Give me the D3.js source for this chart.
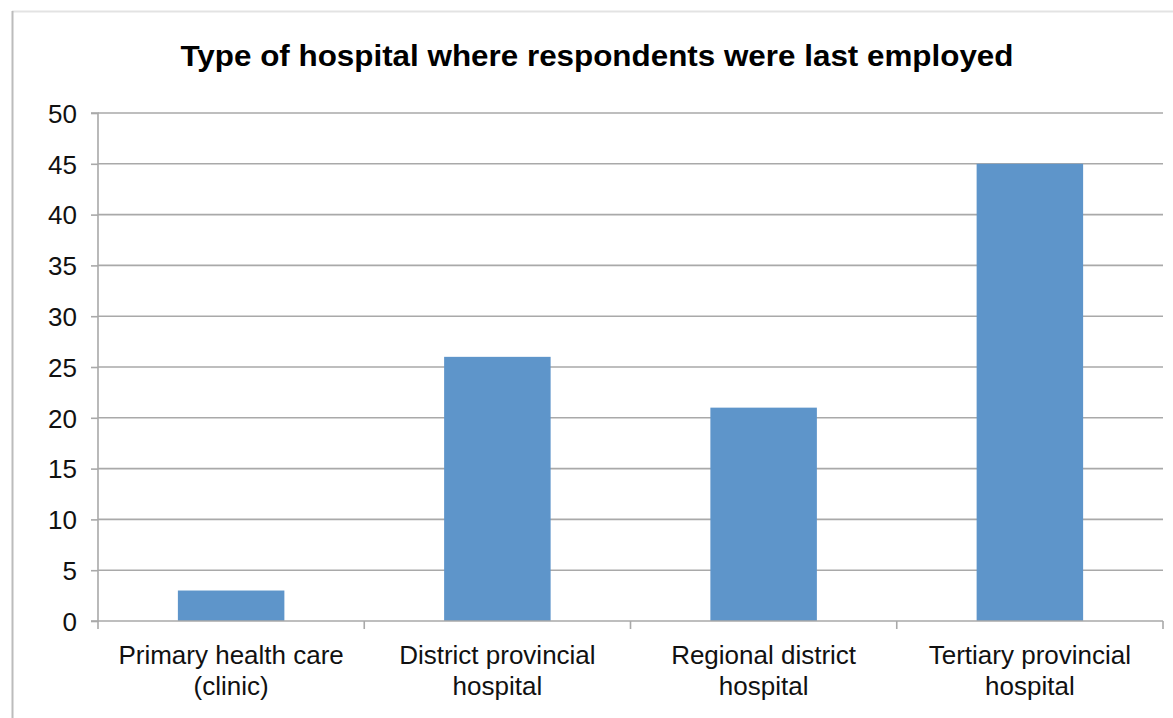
<!DOCTYPE html>
<html>
<head>
<meta charset="utf-8">
<script src="https://cdn.jsdelivr.net/npm/d3@7"></script>
<style>
  html, body { margin: 0; padding: 0; background: #fff; }
  svg { display: block; font-family: Arial, "Liberation Sans", sans-serif; }
</style>
</head>
<body>
<div id="container"></div>
<script>
const WIDTH = 1173;
const HEIGHT = 718;
const LEFT = 98;
const RIGHT = 1163;
const TOP = 113;
const BOTTOM = 621;

var TITLE = "Type of hospital where respondents were last employed";
var CATEGORIES = ["Primary health care (clinic)", "District provincial hospital",
    "Regional district hospital", "Tertiary provincial hospital"];
var LABEL_LINES = [["Primary health care", "(clinic)"], ["District provincial", "hospital"],
    ["Regional district", "hospital"], ["Tertiary provincial", "hospital"]];
var VALUES = [3, 26, 21, 45];
var Y_TICKS = [0, 5, 10, 15, 20, 25, 30, 35, 40, 45, 50];

var svg = d3.select("#container").append("svg")
    .attr("width", WIDTH)
    .attr("height", HEIGHT);

// outer frame (only the top and left edges are in view)
svg.append("line").attr("x1", 12).attr("x2", WIDTH).attr("y1", 11.5).attr("y2", 11.5)
    .attr("stroke", "#e3e3e3").attr("stroke-width", 2);
svg.append("line").attr("x1", 12.5).attr("x2", 12.5).attr("y1", 11).attr("y2", HEIGHT)
    .attr("stroke", "#bcbcbc").attr("stroke-width", 2);

svg.append("text")
    .attr("x", 597)
    .attr("y", 66)
    .attr("text-anchor", "middle")
    .attr("font-size", 30)
    .attr("font-weight", "bold")
    .attr("fill", "#000")
    .attr("textLength", 833)
    .attr("lengthAdjust", "spacingAndGlyphs")
    .text(TITLE);

var x = d3.scaleBand().domain(CATEGORIES).range([LEFT, RIGHT])
    .paddingInner(0.6).paddingOuter(0.3);
var y = d3.scaleLinear().domain([0, 50]).range([BOTTOM, TOP]);

// gridlines
svg.append("g").selectAll("line").data(Y_TICKS.filter(d => d > 0)).join("line")
    .attr("x1", LEFT).attr("x2", RIGHT)
    .attr("y1", d => y(d)).attr("y2", d => y(d))
    .attr("stroke", "#a9a9a9").attr("stroke-width", 1.6);

// bars
svg.append("g").selectAll("rect").data(VALUES).join("rect")
    .attr("x", (d, i) => x(CATEGORIES[i]))
    .attr("width", x.bandwidth())
    .attr("y", d => y(d))
    .attr("height", d => y(0) - y(d))
    .attr("fill", "#5e95ca");

// y axis
var yAxis = d3.axisLeft(y).tickValues(Y_TICKS).tickSize(7).tickPadding(14);
var gy = svg.append("g").attr("transform", "translate(" + LEFT + ",0)").call(yAxis);
gy.select(".domain").attr("stroke", "#a9a9a9").attr("stroke-width", 1.6)
    .attr("d", "M-7," + TOP + "H0V" + BOTTOM + "H-7");
gy.selectAll(".tick line").attr("stroke", "#a9a9a9").attr("stroke-width", 1.6);
gy.selectAll(".tick text").attr("font-size", 26).attr("fill", "#111")
    .attr("font-family", "Arial, 'Liberation Sans', sans-serif").attr("dy", "0.36em");

// x axis
var xAxisLine = svg.append("g");
xAxisLine.append("line").attr("x1", LEFT).attr("x2", RIGHT)
    .attr("y1", BOTTOM).attr("y2", BOTTOM)
    .attr("stroke", "#a9a9a9").attr("stroke-width", 1.6);
var boundaries = [LEFT].concat(CATEGORIES.map(c => x(c) - x.step() * x.paddingOuter() + x.step()));
xAxisLine.selectAll("line.sep").data(boundaries).join("line").attr("class", "sep")
    .attr("x1", d => d).attr("x2", d => d)
    .attr("y1", BOTTOM).attr("y2", BOTTOM + 8)
    .attr("stroke", "#a9a9a9").attr("stroke-width", 1.6);

var labels = svg.append("g").selectAll("text").data(CATEGORIES).join("text")
    .attr("text-anchor", "middle")
    .attr("font-size", 26)
    .attr("fill", "#111");
labels.each(function (c, i) {
    var t = d3.select(this);
    LABEL_LINES[i].forEach(function (line, k) {
        t.append("tspan")
            .attr("x", x(c) + x.bandwidth() / 2)
            .attr("y", 664 + k * 31)
            .text(line);
    });
});
</script>
</body>
</html>
